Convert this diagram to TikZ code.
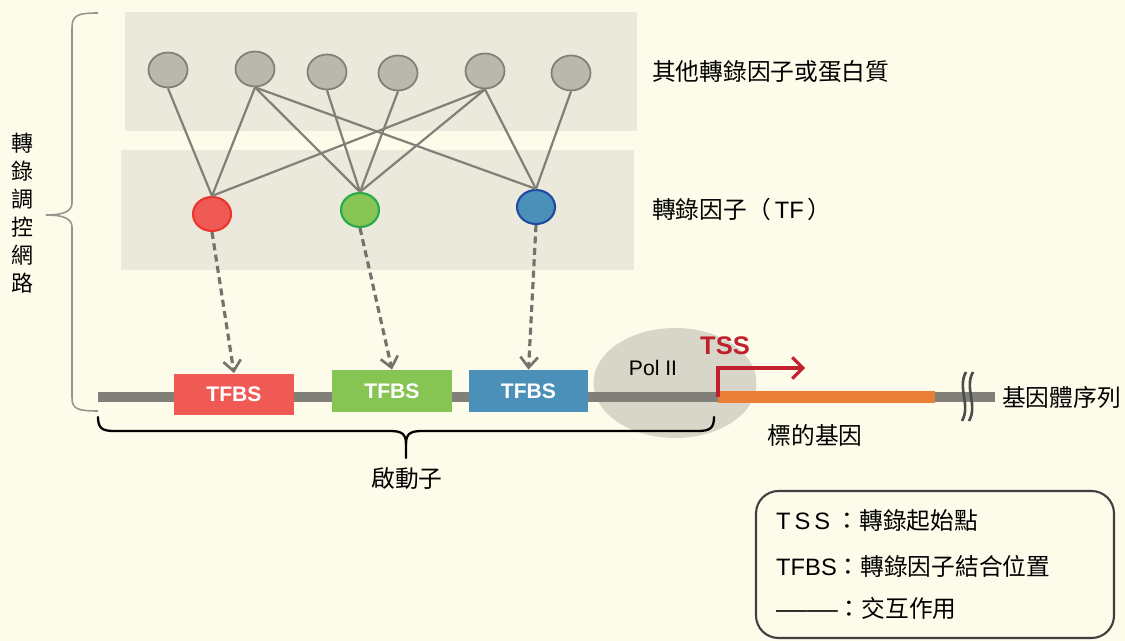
\documentclass[tikz,border=0pt]{standalone}
\usepackage{fontspec}
\setmainfont{Noto Sans CJK TC}
\newfontfamily\lat{Liberation Sans}
\usepackage{tikz}
\usetikzlibrary{shapes.geometric, arrows.meta, positioning}
\definecolor{bgcream}{RGB}{253,251,234}
\definecolor{panelgray}{RGB}{234,233,219}
\definecolor{nodegray}{RGB}{185,184,173}
\definecolor{nodeedge}{RGB}{128,128,121}
\definecolor{tfred}{RGB}{239,90,85}
\definecolor{tfredline}{RGB}{234,52,44}
\definecolor{tfgreen}{RGB}{134,196,84}
\definecolor{tfgreenline}{RGB}{40,170,74}
\definecolor{tfblue}{RGB}{74,144,184}
\definecolor{tfblueline}{RGB}{30,75,160}
\definecolor{dnagray}{RGB}{128,128,121}
\definecolor{geneorange}{RGB}{233,127,54}
\definecolor{tssred}{RGB}{192,32,46}
\definecolor{polgray}{RGB}{216,214,201}
\definecolor{bracegray}{RGB}{150,150,144}

\begin{document}
\begin{tikzpicture}[
    x=0.02cm, y=-0.02cm,
    font=\fontsize{13.5}{16}\selectfont,
    other/.style={ellipse, draw=nodeedge, fill=nodegray, line width=1pt,
                  minimum width=0.78cm, minimum height=0.7cm, inner sep=0pt},
    tf/.style={ellipse, line width=1.2pt, minimum width=0.76cm,
               minimum height=0.68cm, inner sep=0pt},
    tfbs/.style={rectangle, minimum width=2.4cm, minimum height=0.84cm,
                 text=white, font=\lat\bfseries\fontsize{12}{14}\selectfont},
    link/.style={nodeedge, line width=1.25pt},
    bind/.style={-{Straight Barb[length=6pt, width=10pt, line width=1.5pt]},
                 dnagray!90!black, line width=1.8pt, dash pattern=on 4pt off 2.5pt},
    brc/.style={line width=1.3pt, line cap=round}
]
% background and panels
\fill[bgcream] (0,0) rectangle (1125,641);
\useasboundingbox (0,0) rectangle (1125,641);
\fill[panelgray] (125,12) rectangle (637,131);
\fill[panelgray] (121,150) rectangle (634,270);

% other factors
\node[other] (o1) at (168,70) {};
\node[other] (o2) at (255,69) {};
\node[other] (o3) at (327,72) {};
\node[other] (o4) at (398,73) {};
\node[other] (o5) at (485,71) {};
\node[other] (o6) at (571,73) {};

% transcription factors
\node[tf, draw=tfredline,   fill=tfred]   (tfr) at (212,214) {};
\node[tf, draw=tfgreenline, fill=tfgreen] (tfg) at (360,210) {};
\node[tf, draw=tfblueline,  fill=tfblue]  (tfb) at (536,207) {};

\draw[link] (o1.south) -- (tfr.north);
\draw[link] (o2.south) -- (tfr.north);
\draw[link] (o2.south) -- (tfg.north);
\draw[link] (o2.south) -- (tfb.north);
\draw[link] (o3.south) -- (tfg.north);
\draw[link] (o4.south) -- (tfg.north);
\draw[link] (o5.south) -- (tfr.north);
\draw[link] (o5.south) -- (tfg.north);
\draw[link] (o5.south) -- (tfb.north);
\draw[link] (o6.south) -- (tfb.north);

\node[anchor=west] (otherlbl) at (646,72)  {其他轉錄因子或蛋白質};
\node[anchor=west] (tflbl)    at (646,209) {轉錄因子（{\lat\,TF\,}）};

% DNA
\node[ellipse, fill=polgray, minimum width=3.26cm, minimum height=2.2cm] (pol) at (675,383) {};
\node[font=\lat\fontsize{12}{14}\selectfont] (pollbl) at (653,368) {Pol II};
\coordinate (dnaL) at (98,397);
\coordinate (tss)  at (718,397);
\coordinate (geneE) at (935,397);
\coordinate (dnaR) at (995,397);
\draw[dnagray, line width=5.7pt] (dnaL) -- (tss);
\draw[dnagray, line width=5.7pt] (geneE) -- (dnaR);
\draw[geneorange, line width=6.8pt] (tss) -- (geneE);
\draw[black!70, line width=1.5pt] (966,372) .. controls (957,388) and (971,405) .. (962,421);
\draw[black!70, line width=1.5pt] (973,372) .. controls (964,388) and (978,405) .. (969,421);

\node[tfbs, fill=tfred]   (sr) at (234,394.5) {TFBS};
\node[tfbs, fill=tfgreen] (sg) at (392,391) {TFBS};
\node[tfbs, fill=tfblue]  (sb) at (528.5,391) {TFBS};

\draw[bind] (tfr.south) -- (sr.north);
\draw[bind] (tfg.south) -- (sg.north);
\draw[bind] (tfb.south) -- (sb.north);

% TSS
\coordinate (tssend) at (805,368);
\draw[tssred, line width=1.8pt, -{Straight Barb[length=6pt, width=12pt]}] (tss) |- (tssend);
\node[text=tssred, font=\lat\bfseries\fontsize{14.5}{16}\selectfont] (tsslbl) at (725,346) {TSS};

\node[anchor=west] (genome) at (996,397) {基因體序列};
\node (target) at (815,435) {標的基因};

% braces
\draw[brc] (98,417) .. controls (98,428) and (102,431) .. (114,431) -- (390,431)
      .. controls (402,431) and (406,434) .. (406,444) -- (406,458);
\draw[brc] (406,444) .. controls (406,434) and (410,431) .. (422,431) -- (698,431)
      .. controls (710,431) and (714,428) .. (714,417);
\node (promoter) at (407,479) {啟動子};

\draw[bracegray, line width=0.9pt] (98,13) .. controls (78,13) and (72,15) .. (72,28) -- (72,203)
      .. controls (72,212) and (62,215) .. (46,215);
\draw[bracegray, line width=0.9pt] (46,215) .. controls (62,215) and (72,218) .. (72,227) -- (72,398)
      .. controls (72,409) and (78,411) .. (98,411);
\node[align=center, font=\fontsize{12.5}{15.9}\selectfont] (network) at (22,213) {轉\\錄\\調\\控\\網\\路};

% legend
\draw[black!75, line width=1.2pt, rounded corners=0.45cm] (756,491) rectangle (1114,638);
\node[anchor=west] (leg1) at (770,521) {{\lat T\,S\,S} ：轉錄起始點};
\node[anchor=west] (leg2) at (770,566) {{\lat TFBS}：轉錄因子結合位置};
\node[anchor=west] (leg3) at (770,608) {\scalebox{1.3}[1]{\lat ——}：交互作用};
\end{tikzpicture}
\end{document}
